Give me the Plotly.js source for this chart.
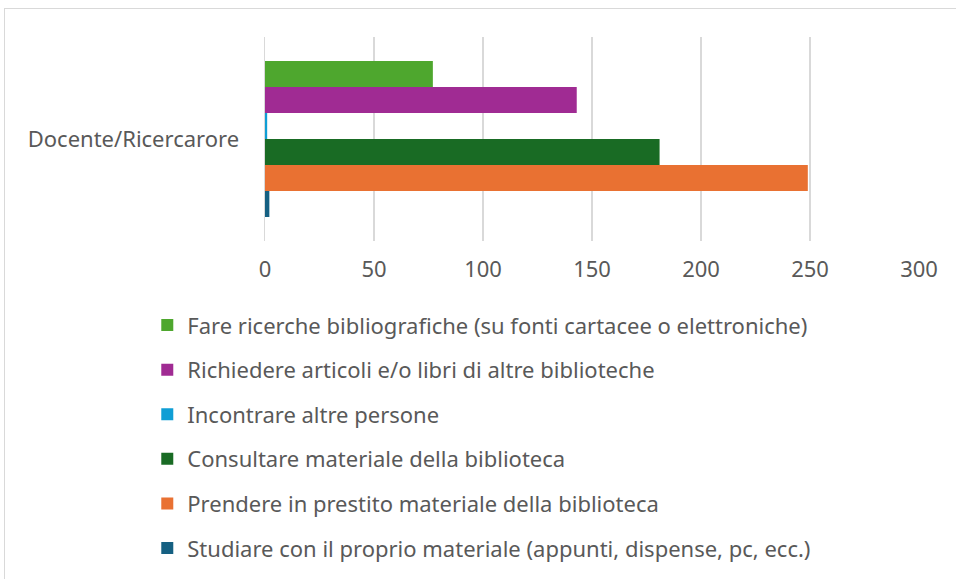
<!DOCTYPE html>
<html>
<head>
<meta charset="utf-8">
<script src="https://cdn.plot.ly/plotly-3.0.1.min.js"></script>
<style>
html,body{margin:0;padding:0;background:#fff;overflow:hidden;}
#chart{width:956px;height:579px;}
#frame{position:absolute;left:4px;top:8px;width:1000px;height:1000px;border:1.5px solid #d9d9d9;pointer-events:none;box-sizing:border-box;}
</style>
</head>
<body>
<div id="chart"></div>
<div id="frame"></div>
<script>
const categories = ["Docente/Ricercarore"];
const seriesNames = [
  "Fare ricerche bibliografiche (su fonti cartacee o elettroniche)",
  "Richiedere articoli e/o libri di altre biblioteche",
  "Incontrare altre persone",
  "Consultare materiale della biblioteca",
  "Prendere in prestito materiale della biblioteca",
  "Studiare con il proprio materiale (appunti, dispense, pc, ecc.)"
];
const seriesValues = [77, 143, 1, 181, 249, 2];
const seriesColors = ["#4EA72E", "#A02B93", "#0F9ED5", "#196B24", "#E97132", "#156082"];
const tickVals = [0, 50, 100, 150, 200, 250, 300];

const traces = seriesNames.map((name, i) => ({
  type: "bar",
  orientation: "h",
  name: name,
  y: categories,
  x: [seriesValues[i]],
  marker: {color: seriesColors[i]},
  legendgroup: "g" + i,
  hoverinfo: "x+name"
}));

const layout = {
  width: 956, height: 579,
  margin: {l: 265, r: 37, t: 37, b: 338, autoexpand: false},
  paper_bgcolor: "rgba(0,0,0,0)",
  plot_bgcolor: "rgba(0,0,0,0)",
  font: {family: "Noto Sans, Open Sans, sans-serif", size: 22, color: "#595959"},
  barmode: "group",
  bargap: 0.235,
  bargroupgap: 0,
  xaxis: {
    range: [0, 300],
    tickvals: tickVals,
    showgrid: true, gridcolor: "#d9d9d9", gridwidth: 1.5,
    zeroline: false, showline: false,
    ticks: "", ticklabelstandoff: 13,
    tickfont: {size: 22, color: "#595959"}
  },
  yaxis: {
    type: "category",
    range: [0.5, -0.5],
    showgrid: false, zeroline: false,
    showline: true, linecolor: "#d9d9d9", linewidth: 1.5,
    ticks: "", ticklabelstandoff: 20,
    tickfont: {size: 22, color: "#595959"}
  },
  showlegend: true,
  legend: {
    orientation: "v",
    x: -0.18, xanchor: "left",
    y: -0.31, yanchor: "top",
    tracegroupgap: 13,
    font: {size: 22, color: "#595959"},
    bgcolor: "rgba(0,0,0,0)"
  }
};

Plotly.newPlot("chart", traces, layout, {displayModeBar: false, staticPlot: true});
</script>
</body>
</html>
